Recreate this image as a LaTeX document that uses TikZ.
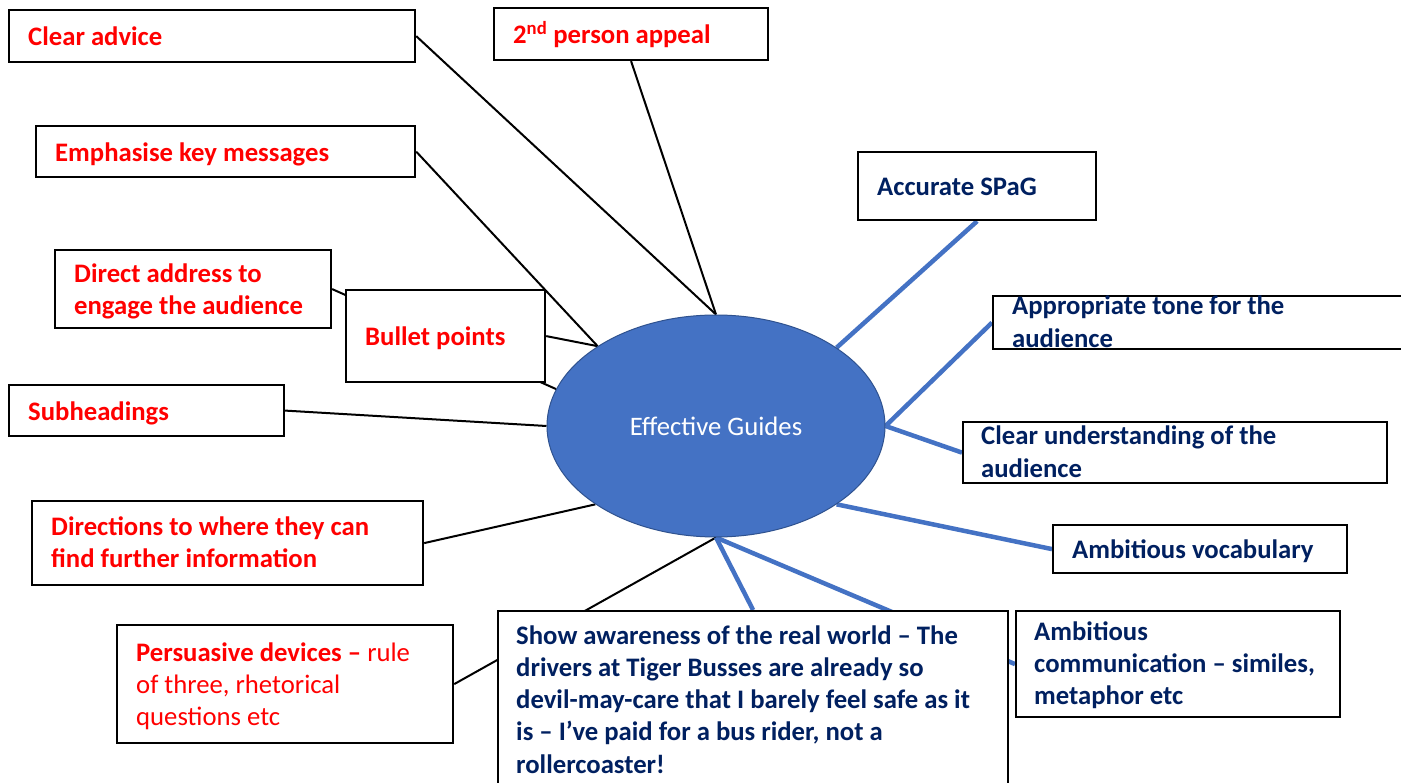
\documentclass[tikz,border=0pt]{standalone}
\usepackage{fontspec}
\setmainfont{Carlito}
\usetikzlibrary{shapes.geometric}
\definecolor{guideblue}{HTML}{4472C4}
\definecolor{guideedge}{HTML}{2F528F}
\definecolor{navytext}{HTML}{002060}
\definecolor{redtext}{HTML}{FF0000}
\pgfdeclarelayer{bg}
\pgfsetlayers{bg,main}
\newcommand{\txtfont}{\fontsize{26.7}{32.3}\selectfont}
\tikzset{
  box/.style={draw=black, line width=2.2pt, fill=white, rectangle,
    anchor=north west, inner sep=0pt},
  lbl/.style={anchor=west, inner sep=0pt, align=left,
    font=\txtfont\bfseries, execute at begin node=\strut,
    execute at end node=\strut},
  redlbl/.style={lbl, text=redtext},
  navylbl/.style={lbl, text=navytext},
  blackline/.style={draw=black, line width=2pt},
  blueline/.style={draw=guideblue, line width=4.5pt},
}
\begin{document}
\begin{tikzpicture}[x=1pt,y=-1pt]
\useasboundingbox (0,0) rectangle (1401,783);

% central ellipse
\node[ellipse, fill=guideblue, draw=guideedge, line width=1pt,
  minimum width=338, minimum height=222, inner sep=0pt, text=white,
  font=\txtfont] (g) at (716,426) {Effective Guides};

% boxes (north west corner, width, height)
\node[box, minimum width=406, minimum height=52] (ca) at (8,9) {};
\node[box, minimum width=274, minimum height=52] (pa) at (493,7) {};
\node[box, minimum width=379, minimum height=51] (em) at (35,125) {};
\node[box, minimum width=276, minimum height=78] (da) at (54,249) {};
\node[box, minimum width=199, minimum height=92] (bp) at (345,289) {};
\node[box, minimum width=275, minimum height=51] (sh) at (8,384) {};
\node[box, minimum width=391, minimum height=84] (dir) at (31,500) {};
\node[box, minimum width=336, minimum height=118] (pd) at (116,624) {};
\node[box, minimum width=510, minimum height=180] (sa) at (497,610) {};
\node[box, minimum width=238, minimum height=68] (sp) at (857,151) {};
\node[box, minimum width=420, minimum height=53] (at) at (992,295) {};
\node[box, minimum width=424, minimum height=61] (cu) at (962,421) {};
\node[box, minimum width=294, minimum height=48] (av) at (1052,524) {};
\node[box, minimum width=324, minimum height=106] (ac) at (1015,610) {};

% box texts
\node[redlbl] (ca-t) at ([xshift=20pt,yshift=-3pt]ca.west) {Clear advice};
\node[redlbl] (pa-t) at ([xshift=20pt,yshift=-3pt]pa.west) {2\textsuperscript{nd} person appeal};
\node[redlbl] (em-t) at ([xshift=20pt,yshift=-3pt]em.west) {Emphasise key messages};
\node[redlbl] (da-t) at ([xshift=20pt,yshift=-5pt]da.west) {Direct address to\\engage the audience};
\node[redlbl] (bp-t) at ([xshift=20pt,yshift=-3pt]bp.west) {Bullet points};
\node[redlbl] (sh-t) at ([xshift=20pt,yshift=-3pt]sh.west) {Subheadings};
\node[redlbl] (dir-t) at ([xshift=20pt,yshift=-4pt]dir.west) {Directions to where they can\\find further information};
\node[redlbl] (pd-t) at ([xshift=20pt,yshift=-5pt]pd.west)
  {Persuasive devices -- {\mdseries rule}\\{\mdseries of three, rhetorical}\\{\mdseries questions etc}};
\node[navylbl] (sa-t) at ([xshift=19pt,yshift=-3pt]sa.west)
  {Show awareness of the real world -- The\\drivers at Tiger Busses are already so\\devil-may-care that I barely feel safe as it\\is -- I’ve paid for a bus rider, not a\\rollercoaster!};
\node[navylbl] (sp-t) at ([xshift=20pt,yshift=-3pt]sp.west) {Accurate SPaG};
\node[navylbl] (at-t) at ([xshift=20pt,yshift=-4pt]at.west) {Appropriate tone for the\\audience};
\node[navylbl] (cu-t) at ([xshift=19pt,yshift=-4pt]cu.west) {Clear understanding of the\\audience};
\node[navylbl] (av-t) at ([xshift=20pt,yshift=-3pt]av.west) {Ambitious vocabulary};
\node[navylbl] (ac-t) at ([xshift=19pt,yshift=-4pt]ac.west) {Ambitious\\communication -- similes,\\metaphor etc};

% connectors, drawn underneath the boxes
\begin{pgfonlayer}{bg}
  \fill[white] (0,0) rectangle (1401,783);
  \draw[blackline] (ca.east) -- (g.north);
  \draw[blackline] (pa.south) -- (g.north);
  \draw[blackline] (em.east) -- (g.146);
  \draw[blackline] (bp.east) -- (g.146);
  \draw[blackline] (da.east) -- (g.167);
  \draw[blackline] (sh.east) -- (g.west);
  \draw[blackline] (dir.east) -- (g.213);
  \draw[blackline] (pd.east) -- (g.south);
  \draw[blueline] (sp.south) -- (g.33.4);
  \draw[blueline] (at.west) -- (g.east);
  \draw[blueline] (cu.west) -- (g.east);
  \draw[blueline] (av.west) -- (g.-33);
  \draw[blueline] (sa.north) -- (g.south);
  \draw[blueline] (ac.west) -- (g.south);
\end{pgfonlayer}
\end{tikzpicture}
\end{document}
